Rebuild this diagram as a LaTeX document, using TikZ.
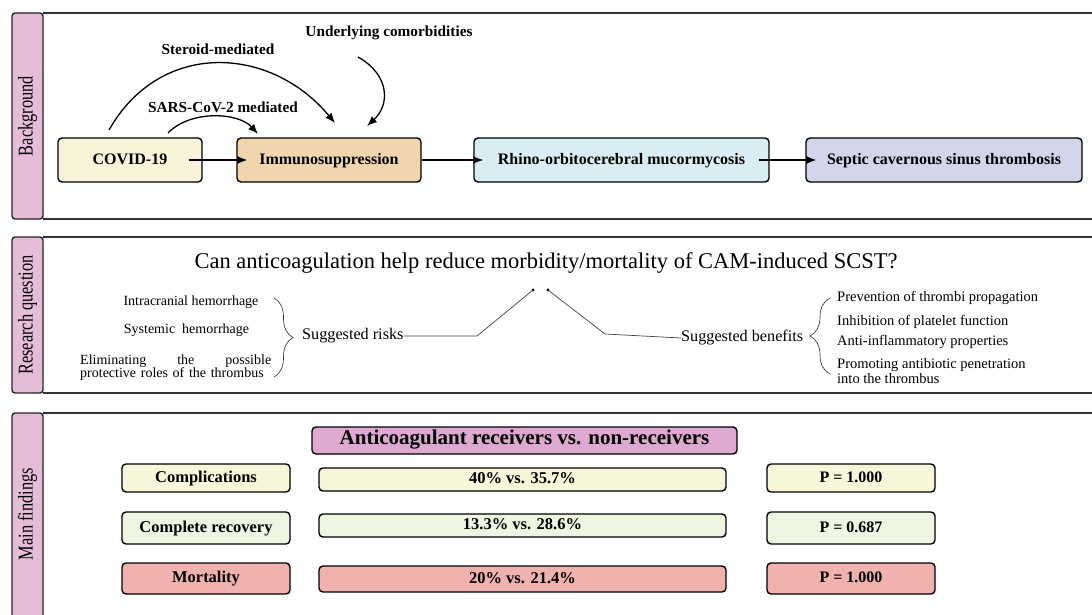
\documentclass[tikz,border=0pt]{standalone}
\usepackage{fontspec}
\setmainfont{Liberation Serif}
\newfontfamily\tabfont[FakeStretch=0.78]{Liberation Serif}
\usetikzlibrary{decorations.pathreplacing,arrows.meta}

\definecolor{tabpink}{HTML}{E6BDD9}
\definecolor{titlepink}{HTML}{DDA9D0}
\definecolor{covidfill}{HTML}{F7F4DA}
\definecolor{immfill}{HTML}{F0D5AF}
\definecolor{rhinofill}{HTML}{D9EEF4}
\definecolor{septicfill}{HTML}{D3D6EA}
\definecolor{rowyellow}{HTML}{F7F5DA}
\definecolor{rowgreen}{HTML}{EEF5E0}
\definecolor{rowred}{HTML}{EFB2AF}

\tikzset{
  panelline/.style={draw=black!80, line width=1.6pt},
  tabbox/.style={draw=black!85, line width=1.4pt, fill=tabpink, rounded corners=3pt},
  tablabel/.style={rotate=90, font=\tabfont\fontsize{21}{21}\selectfont},
  box/.style={draw=black, line width=1.4pt, rounded corners=4pt, inner sep=0pt,
    text height=2ex, text depth=0.2ex,
    font=\bfseries\fontsize{16}{18}\selectfont},
  arr/.style={-{Latex[length=10pt,width=8pt]}, line width=1.3pt},
  thinline/.style={draw=black!75, line width=0.7pt},
  smalltxt/.style={font=\fontsize{14}{13}\selectfont},
  midtxt/.style={font=\fontsize{16.2}{18}\selectfont},
  toplabel/.style={font=\bfseries\fontsize{15.3}{17}\selectfont},
}

\begin{document}
\begin{tikzpicture}[x=1pt, y=-1pt]
\useasboundingbox (0,0) rectangle (1092,615);
\clip (0,0) rectangle (1092,615);

% Panels with side tabs
\foreach \top/\bot/\lab in {13/219/Background, 237/393/Research question, 413/640/Main findings}{
  \draw[panelline] (43,\top) -- (1100,\top);
  \draw[panelline] (43,\bot) -- (1100,\bot);
  \draw[tabbox] (12,\top) rectangle (43,\bot);
  \node[tablabel] at (27.5,{min((\top+\bot)/2,514)}) {\lab};
}

% Background
\node[box, fill=covidfill, minimum width=144pt, minimum height=44pt] (covid) at (130,160) {COVID-19};
\node[box, fill=immfill, minimum width=184pt, minimum height=44pt] (imm) at (329,160) {Immunosuppression};
\node[box, fill=rhinofill, minimum width=295pt, minimum height=44pt] (rhino) at (621.5,160) {Rhino-orbitocerebral mucormycosis};
\node[box, fill=septicfill, minimum width=276pt, minimum height=44pt] (septic) at (944,160) {Septic cavernous sinus thrombosis};

\draw[arr, shorten <=-14pt, shorten >=-11pt] (covid) -- (imm);
\draw[arr, shorten >=-10pt] (imm) -- (rhino);
\draw[arr, shorten <=-11pt, shorten >=-11pt] (rhino) -- (septic);

\node[toplabel] (steroid) at (218,49) {Steroid-mediated};
\node[toplabel] (comorb) at (389,33) {Underlying comorbidities};
\node[toplabel] (sars) at (223,107) {SARS-CoV-2 mediated};

\coordinate (st0) at (109,130); \coordinate (st1) at (335,123);
\coordinate (sa0) at (168,133); \coordinate (sa1) at (258,134);
\coordinate (co0) at (358,57);  \coordinate (co1) at (367,126);
\draw[arr] (st0) .. controls (160,40) and (270,45) .. (st1);
\draw[arr] (sa0) .. controls (190,110) and (238,112) .. (sa1);
\draw[arr] (co0) .. controls (390,75) and (390,105) .. (co1);

% Research question
\node[font=\fontsize{22.5}{24}\selectfont] (question) at (546,263) {Can anticoagulation help reduce morbidity/mortality of CAM-induced SCST?};

\node[smalltxt] (risk1) at (191,302) {Intracranial hemorrhage};
\node[smalltxt] (risk2) at (186.5,330) {Systemic\ \ hemorrhage};
\node[smalltxt, text width=191pt, align=left, inner sep=0pt, anchor=west] (risk3) at (80,368)
  {Eliminating\hfill the\hfill possible\\ protective roles of the thrombus};
\draw[thinline, decorate, decoration={brace, amplitude=19pt}] (274,298) -- (274,377);
\node[midtxt, anchor=west, inner sep=0pt] (risks) at (302,336) {Suggested risks};

\fill (533,290) circle (1.6pt) coordinate (ldot);
\fill (548,290) circle (1.6pt) coordinate (rdot);
\coordinate (kinkl) at (477,336);
\coordinate (kinkr) at (605,334);
\draw[thinline] (risks.east) -- (kinkl) -- (ldot);
\node[midtxt, anchor=west, inner sep=0pt] (benefits) at (681,338) {Suggested benefits};
\draw[thinline] (rdot) -- (kinkr) -- (benefits.west);

\draw[thinline, decorate, decoration={brace, amplitude=20pt}] (830,374) -- (830,298);
\begin{scope}[every node/.style={smalltxt, font=\fontsize{14.5}{13}\selectfont, anchor=west, inner sep=0pt, align=left}]
  \node (ben1) at (837,298) {Prevention of thrombi propagation};
  \node (ben2) at (837,322) {Inhibition of platelet function};
  \node (ben3) at (837,342) {Anti-inflammatory properties};
  \node (ben4) at (837,371) {Promoting antibiotic penetration\\into the thrombus};
\end{scope}

% Main findings
\node[box, fill=titlepink, font=\bfseries\fontsize{21}{23}\selectfont, minimum width=425pt, minimum height=27pt] (title) at (524.5,440.5) {Anticoagulant receivers vs. non-receivers};
\foreach \n/\y/\h/\vy/\vh/\c/\lab/\val/\p in {comp/478/28/479.5/23/rowyellow/Complications/40\% vs. 35.7\%/1.000,
    rec/528/32/525.5/23/rowgreen/Complete recovery/13.3\% vs. 28.6\%/0.687,
    mort/578.5/31/579/26/rowred/Mortality/20\% vs. 21.4\%/1.000}{
  \node[box, fill=\c, font=\bfseries\fontsize{16.5}{18}\selectfont, minimum width=168pt, minimum height=\h pt] (\n) at (206,\y) {\lab};
  \node[box, fill=\c, font=\bfseries\fontsize{16.5}{18}\selectfont, minimum width=407pt, minimum height=\vh pt] (\n val) at (522.5,\vy) {\val};
  \node[box, fill=\c, minimum width=168pt, minimum height=\h pt] (\n p) at (851,\y) {P = \p};
}
\end{tikzpicture}
\end{document}
